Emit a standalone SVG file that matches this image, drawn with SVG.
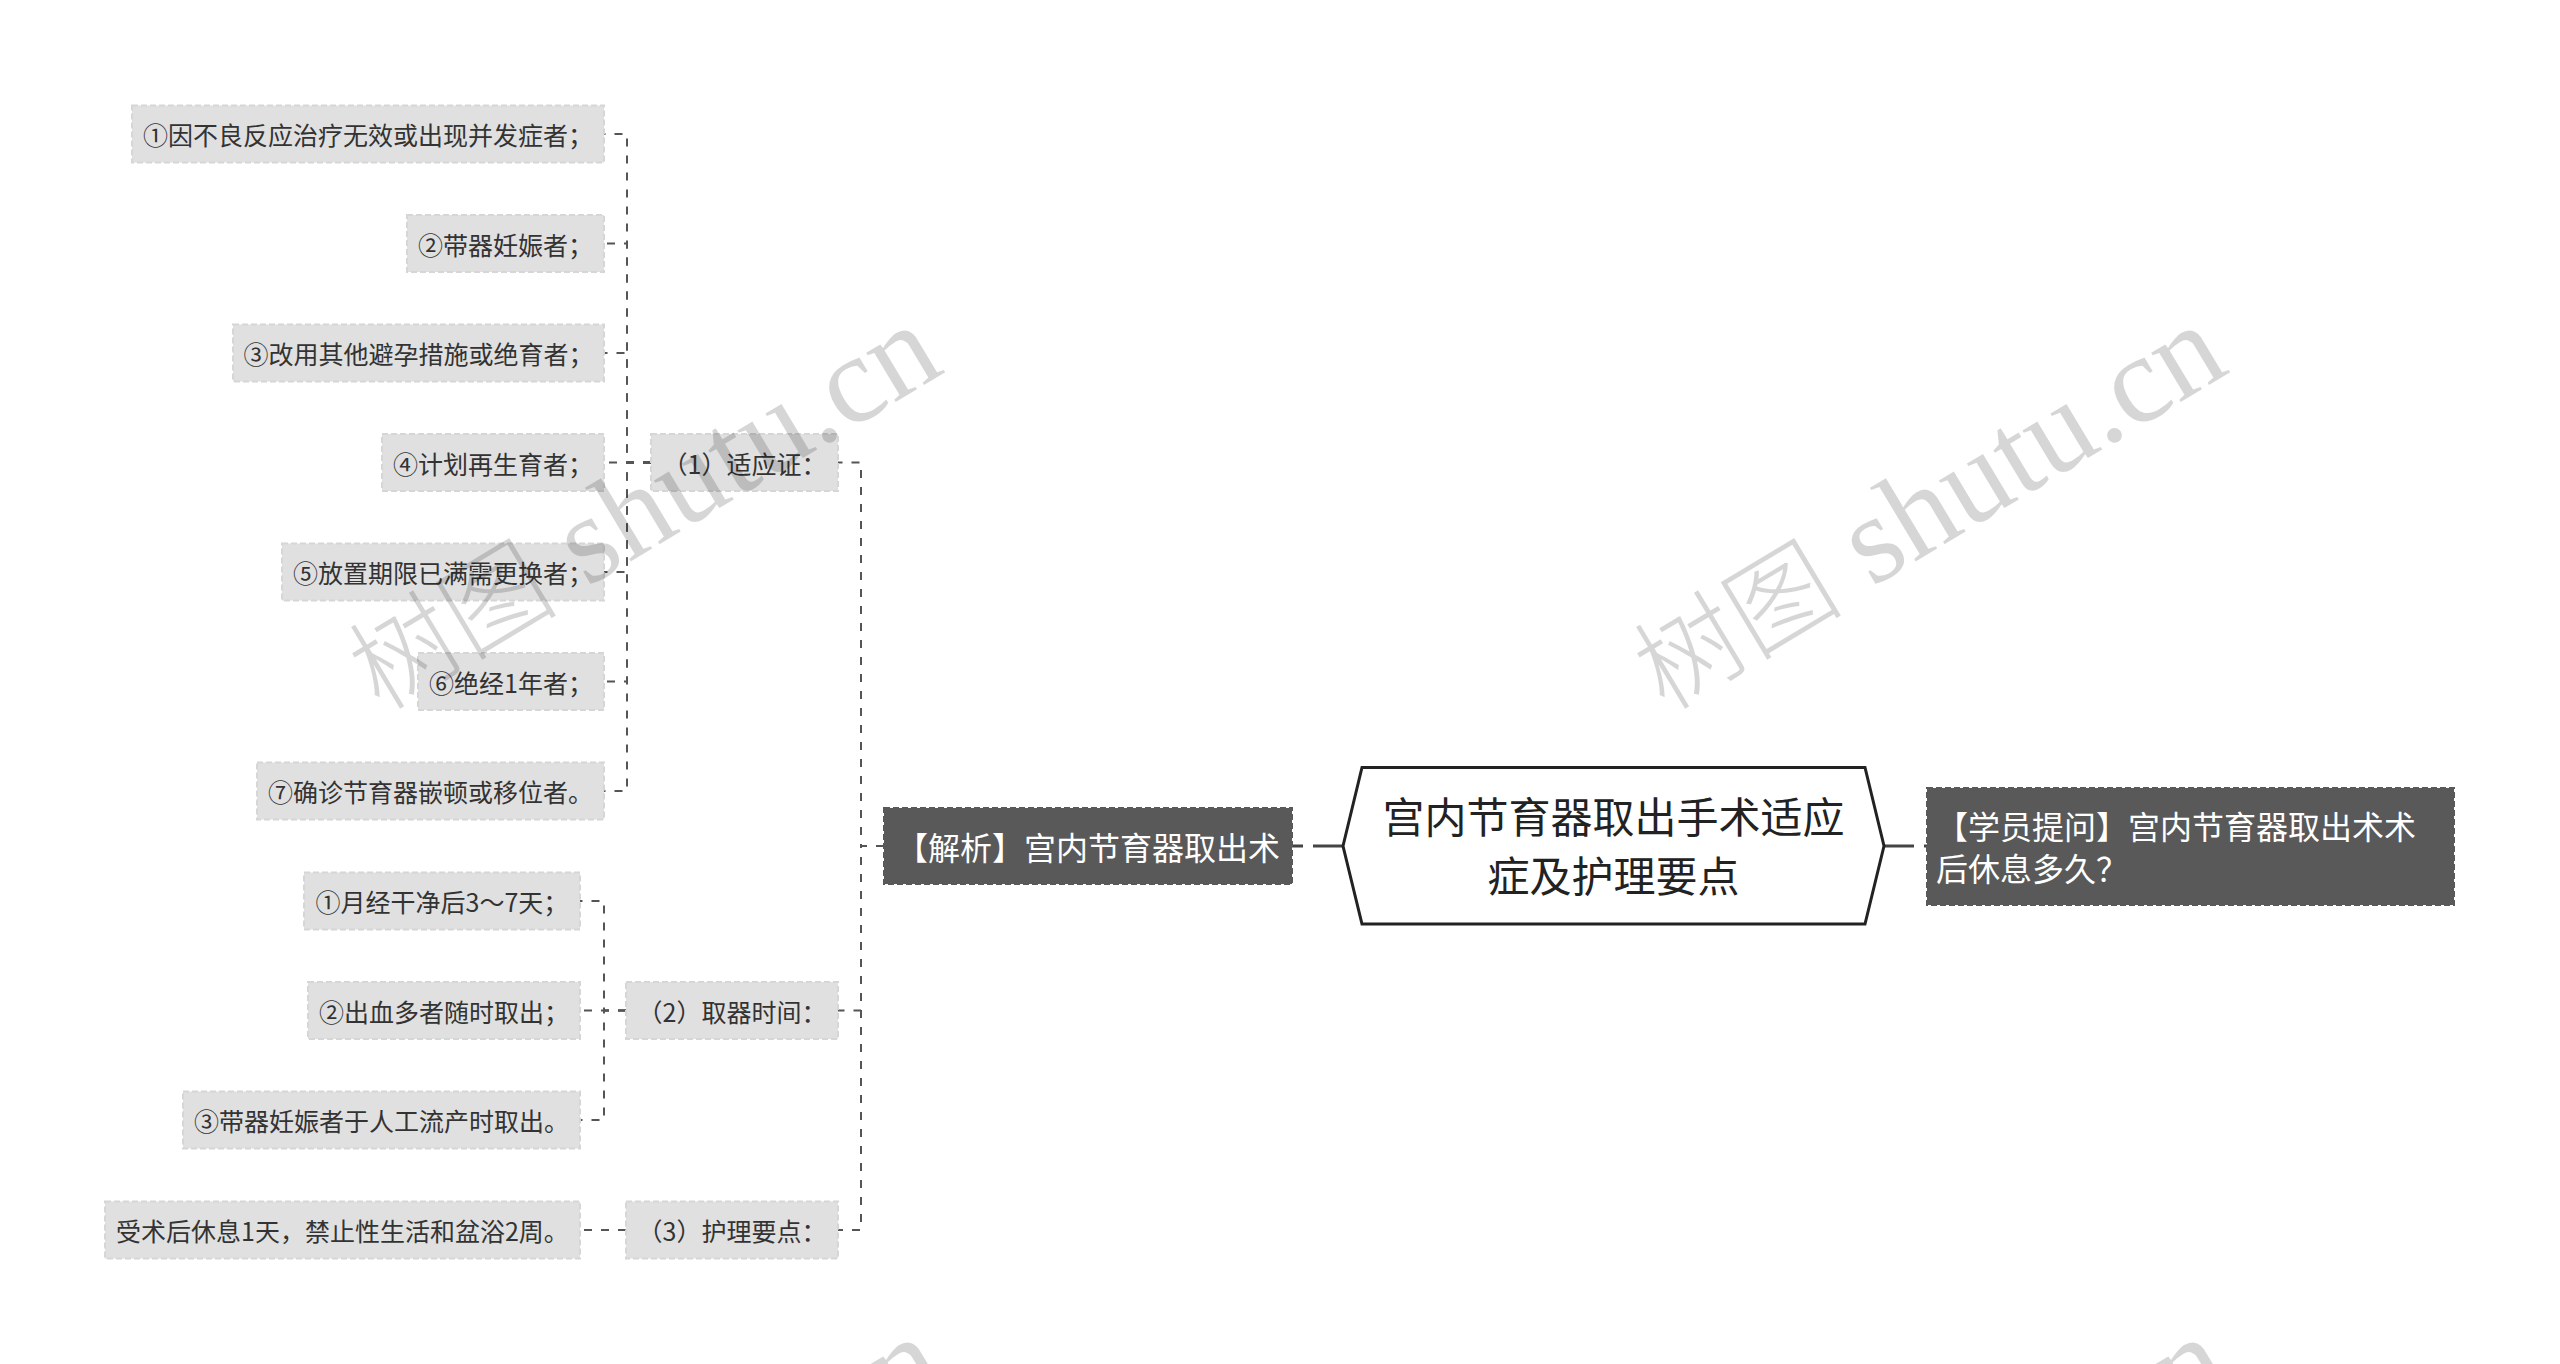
<svg xmlns="http://www.w3.org/2000/svg" width="2560" height="1364" viewBox="0 0 2560 1364">
<style>
.lb{fill:#e0e0e0;stroke:#d6d6d6;stroke-width:2;stroke-dasharray:6 3}
.db{fill:#595959;stroke:#595959;stroke-width:2;stroke-dasharray:6 3}
.lt{font-family:"Noto Sans CJK SC","Microsoft YaHei",sans-serif;font-size:25px;fill:#333;text-anchor:middle;dominant-baseline:central}
.dt{font-family:"Noto Sans CJK SC",sans-serif;font-size:32px;fill:#fff;dominant-baseline:central}
.ct{font-family:"Noto Sans CJK SC",sans-serif;font-size:42px;fill:#222;text-anchor:middle;dominant-baseline:central}
.cn{fill:none;stroke:#555;stroke-width:2;stroke-dasharray:8 9}
.rc{fill:none;stroke:#444;stroke-width:3;stroke-dasharray:30 10}
.wm{fill:#000;fill-opacity:0.16}
.wmc{font-family:"Noto Sans CJK SC",sans-serif;font-size:105px;font-weight:300}
.wml{font-family:"Liberation Serif",serif;font-size:125px}
</style>
<rect width="2560" height="1364" fill="#fff"/>
<g id="connectors">
<path class="cn" d="M651,462.5H627V134H604"/>
<path class="cn" d="M651,462.5H627V243.5H604"/>
<path class="cn" d="M651,462.5H627V353H604"/>
<path class="cn" d="M651,462.5H604"/>
<path class="cn" d="M651,462.5H627V572H604"/>
<path class="cn" d="M651,462.5H627V681.5H604"/>
<path class="cn" d="M651,462.5H627V791H604"/>
<path class="cn" d="M626,1010.5H604V901H580"/>
<path class="cn" d="M626,1010.5H580"/>
<path class="cn" d="M626,1010.5H604V1120H580"/>
<path class="cn" d="M626,1230H580"/>
<path class="cn" d="M884,846H861V462.5H838"/>
<path class="cn" d="M884,846H861V1010.5H838"/>
<path class="cn" d="M884,846H861V1230H838"/>
<path class="rc" d="M1343,846H1292"/>
<path class="rc" d="M1884,846H1927"/>
</g>
<g id="root">
<polygon points="1343,846 1362,767.5 1865,767.5 1884,846 1865,924 1362,924" fill="#fff" stroke="#222" stroke-width="3"/>
<text class="ct" x="1613.5" y="814">宫内节育器取出手术适应</text>
<text class="ct" x="1613.5" y="873">症及护理要点</text>
</g>
<g id="question">
<rect class="db" x="1927" y="788" width="527" height="117"/>
<text class="dt" x="1936" y="825">【学员提问】宫内节育器取出术术</text>
<text class="dt" x="1936" y="867">后休息多久？</text>
</g>
<g id="analysis">
<rect class="db" x="884" y="808" width="408" height="76"/>
<text class="dt" x="1088" y="846" text-anchor="middle">【解析】宫内节育器取出术</text>
</g>
<g id="indication">
<rect class="lb" x="651" y="434" width="187" height="57"/>
<text class="lt" x="744.5" y="462.5">（1）适应证：</text>
</g>
<g id="ind1"><rect class="lb" x="132" y="105.5" width="472" height="57"/><text class="lt" x="368" y="134">①因不良反应治疗无效或出现并发症者；</text></g>
<g id="ind2"><rect class="lb" x="407" y="215" width="197" height="57"/><text class="lt" x="505.5" y="243.5">②带器妊娠者；</text></g>
<g id="ind3"><rect class="lb" x="233" y="324.5" width="371" height="57"/><text class="lt" x="418.5" y="353">③改用其他避孕措施或绝育者；</text></g>
<g id="ind4"><rect class="lb" x="382" y="434" width="222" height="57"/><text class="lt" x="493" y="462.5">④计划再生育者；</text></g>
<g id="ind5"><rect class="lb" x="282" y="543.5" width="322" height="57"/><text class="lt" x="443" y="572">⑤放置期限已满需更换者；</text></g>
<g id="ind6"><rect class="lb" x="418" y="653" width="186" height="57"/><text class="lt" x="511" y="681.5">⑥绝经1年者；</text></g>
<g id="ind7"><rect class="lb" x="257" y="762.5" width="347" height="57"/><text class="lt" x="430.5" y="791">⑦确诊节育器嵌顿或移位者。</text></g>
<g id="timing">
<rect class="lb" x="626" y="982" width="212" height="57"/>
<text class="lt" x="732" y="1010.5">（2）取器时间：</text>
</g>
<g id="time1"><rect class="lb" x="304" y="872.5" width="276" height="57"/><text class="lt" x="442" y="901">①月经干净后3～7天；</text></g>
<g id="time2"><rect class="lb" x="308" y="982" width="272" height="57"/><text class="lt" x="444" y="1010.5">②出血多者随时取出；</text></g>
<g id="time3"><rect class="lb" x="183" y="1091.5" width="397" height="57"/><text class="lt" x="381.5" y="1120">③带器妊娠者于人工流产时取出。</text></g>
<g id="care">
<rect class="lb" x="626" y="1201.5" width="212" height="57"/>
<text class="lt" x="732" y="1230">（3）护理要点：</text>
</g>
<g id="care1"><rect class="lb" x="105" y="1201.5" width="475" height="57"/><text class="lt" x="342.5" y="1230">受术后休息1天，禁止性生活和盆浴2周。</text></g>
<g id="watermarks" class="wm">
<text transform="translate(1665,712) rotate(-31)"><tspan class="wmc">树图</tspan><tspan class="wml"> shutu.cn</tspan></text>
<text transform="translate(380,712) rotate(-31)"><tspan class="wmc">树图</tspan><tspan class="wml"> shutu.cn</tspan></text>
<text transform="translate(1668,1724) rotate(-31)"><tspan class="wmc">树图</tspan><tspan class="wml"> shutu.cn</tspan></text>
<text transform="translate(383,1724) rotate(-31)"><tspan class="wmc">树图</tspan><tspan class="wml"> shutu.cn</tspan></text>
</g>
</svg>
